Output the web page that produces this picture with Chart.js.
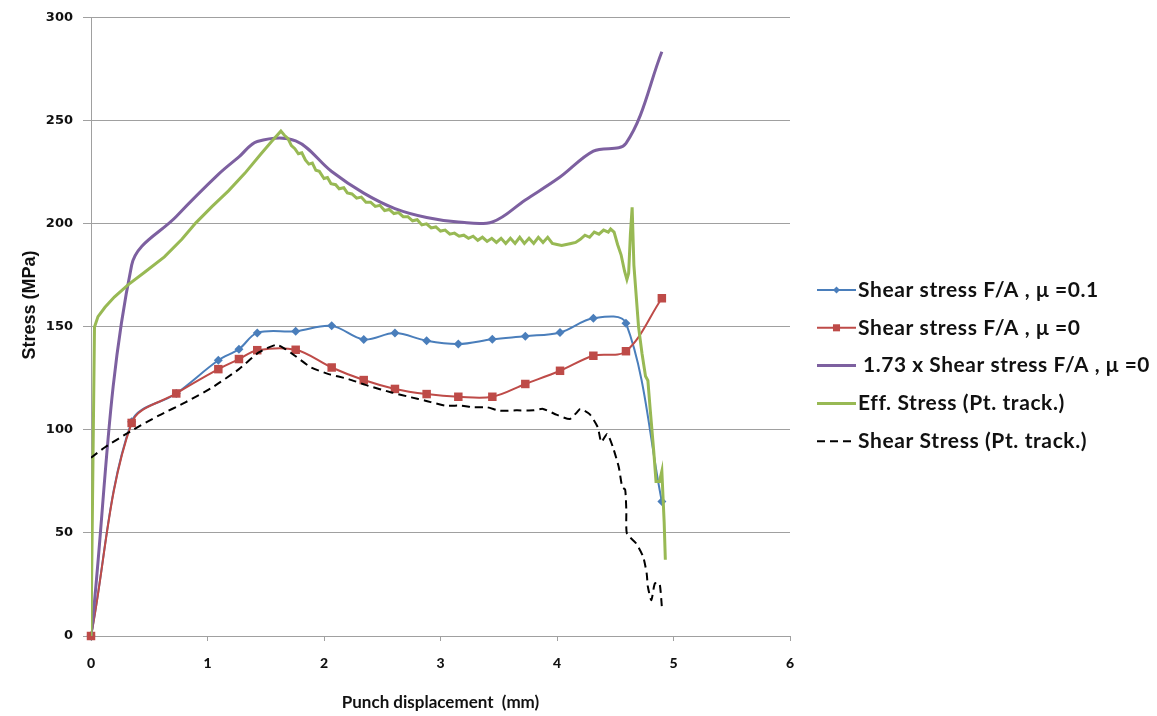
<!DOCTYPE html>
<html>
<head>
<meta charset="utf-8">
<script src="https://cdn.jsdelivr.net/npm/chart.js@4.4.0/dist/chart.umd.min.js"></script>
<style>
  body { margin: 0; background: #fff; }
</style>
</head>
<body>
<canvas id="stressChart" width="1157" height="716"></canvas>
<script>
// Punch displacement (mm) of the F/A points
const faX = [0, 0.349, 0.732, 1.093, 1.27, 1.427, 1.757, 2.066, 2.341, 2.609, 2.881, 3.153, 3.445, 3.728, 4.026, 4.312, 4.592, 4.9];
// Shear stress F/A, mu = 0.1
const shearMu01 = [0, 104, 117.7, 133.8, 139.2, 147.1, 147.9, 150.5, 143.9, 147.0, 143.3, 141.7, 144.0, 145.5, 147.3, 154.2, 151.8, 65.3];
// Shear stress F/A, mu = 0
const shearMu0 = [0, 103.4, 117.7, 129.5, 134.4, 138.7, 138.9, 130.3, 124.2, 119.9, 117.4, 116.1, 116.1, 122.3, 128.7, 136.0, 138.2, 163.9];
// 1.73 x shear stress F/A, mu = 0
const shearMu0Scaled = [0, 180, 203.6, 224, 232.5, 240, 240.3, 225.4, 214.9, 207.4, 203.1, 200.9, 200.9, 211.6, 222.7, 235.3, 239.1, 283.5];

// Eff. stress, point tracking
const effX = [0, 0.03, 0.06, 0.12, 0.2, 0.32, 0.46, 0.63, 0.78, 0.9, 1.04, 1.18, 1.32, 1.46, 1.55, 1.63,
  1.66, 1.69, 1.72, 1.75, 1.78, 1.81, 1.84, 1.87, 1.9, 1.93, 1.96, 2.0, 2.03, 2.06, 2.1, 2.13, 2.17, 2.2,
  2.24, 2.28, 2.32, 2.36, 2.4, 2.44, 2.48, 2.52, 2.56, 2.6, 2.64, 2.68, 2.72, 2.76, 2.8, 2.84, 2.88, 2.92,
  2.96, 3.0, 3.04, 3.08, 3.12, 3.16, 3.2, 3.24, 3.28, 3.32, 3.36, 3.4, 3.44, 3.48, 3.52, 3.56, 3.6, 3.64,
  3.68, 3.72, 3.76, 3.8, 3.84, 3.88, 3.92, 3.96, 4.0, 4.04, 4.08, 4.12, 4.16, 4.2, 4.24, 4.28, 4.32, 4.36,
  4.4, 4.44, 4.46, 4.49, 4.52, 4.55, 4.58, 4.6, 4.615, 4.63, 4.645, 4.66, 4.7, 4.73, 4.76, 4.78, 4.8, 4.83,
  4.85, 4.88, 4.9, 4.92, 4.93];
const effY = [0, 150, 155, 159.5, 164.5, 170.5, 176.5, 184, 192.5, 200.5, 208.5, 216, 224.5, 234, 240, 245,
  243, 241.5, 238, 236.5, 234, 234.5, 231, 229, 229.5, 226, 225.5, 222, 222.5, 219.5, 219, 217, 217.5, 215,
  214.5, 212.5, 213, 210.5, 210.5, 208.5, 209, 206.5, 207, 205, 205.5, 203.5, 203.5, 201.5, 202, 199.5, 200, 198,
  198.5, 196.5, 197, 195, 195.5, 194, 194.5, 193, 194, 192, 193.5, 191.5, 193, 191, 193, 190.5, 193, 190.5,
  193.5, 190.5, 193, 190.5, 193.5, 191, 193.5, 190.5, 190, 189.5, 190, 190.5, 191, 192.5, 194.5, 193.5, 196, 195,
  197, 196, 197.5, 196, 190, 185, 177, 173, 176, 195, 208, 180, 150, 137, 126, 124, 110, 90,
  75, 75, 80, 55, 37];

// Shear stress, point tracking
const trackX = [0, 0.12, 0.35, 0.58, 0.81, 1.04, 1.27, 1.44, 1.59, 1.67, 1.75, 1.89, 2.04, 2.21, 2.38, 2.58,
  2.75, 2.87, 3.04, 3.18, 3.28, 3.4, 3.51, 3.65, 3.8, 3.88, 4.0, 4.11, 4.17, 4.2, 4.28, 4.35, 4.38, 4.43,
  4.48, 4.53, 4.56, 4.585, 4.595, 4.6, 4.68, 4.74, 4.77, 4.78, 4.81, 4.84, 4.88, 4.9];
const trackY = [86.5, 91.6, 99.7, 106.9, 113.4, 120.6, 129.5, 137.6, 141.3, 139.2, 136, 130.3, 127.1, 124.7, 121.4, 118.2,
  115.8, 114.2, 111.8, 111.8, 111, 111, 109.3, 109.5, 109.5, 110.2, 107.3, 105.3, 108.5, 110.2, 107.7, 101.3, 94.1, 98.1,
  91.6, 82, 72.3, 71, 61, 49.7, 44.9, 38.4, 30.3, 23.9, 17.4, 25.5, 25.5, 14.2];

const xTicks = [0, 1, 2, 3, 4, 5, 6];
const yTicks = [0, 50, 100, 150, 200, 250, 300];
const seriesNames = [
  "Shear stress F/A , \u03bc =0.1",
  "Shear stress F/A , \u03bc =0",
  "1.73 x Shear stress F/A , \u03bc =0",
  "Eff. Stress (Pt. track.)",
  "Shear Stress (Pt. track.)"
];
const yTitle = "Stress (MPa)";

function toPoints(xs, ys) {
  return xs.map((x, i) => ({ x: x, y: ys[i] }));
}

const gridColor = "#a0a0a0";

// legend on the right + y title, drawn by hand
const sideLegend = {
  id: "sideLegend",
  afterDraw(chart) {
    const ctx = chart.ctx;
    ctx.save();
    ctx.font = "bold 21px Lato";
    ctx.letterSpacing = "0.6px";
    ctx.textBaseline = "middle";
    chart.data.datasets.forEach((ds, i) => {
      const y = 290 + i * 37.8;
      ctx.strokeStyle = ds.borderColor;
      ctx.lineWidth = ds.legendWidth;
      ctx.setLineDash(ds.borderDash || []);
      ctx.beginPath();
      ctx.moveTo(817, y);
      ctx.lineTo(856, y);
      ctx.stroke();
      ctx.setLineDash([]);
      if (ds.pointRadius > 0) {
        ctx.fillStyle = ds.pointBackgroundColor;
        Chart.helpers.drawPoint(ctx, { pointStyle: ds.pointStyle, radius: ds.pointRadius - 1, rotation: 0, borderWidth: 0 }, 836.5, y);
      }
      ctx.fillStyle = "#111";
      // third label starts a little further right and must fit the canvas
      const tx = i === 2 ? 863 : 858;
      ctx.fillText(seriesNames[i], tx, y, 1150 - tx);
    });
    ctx.restore();

    // y axis title, sits a bit above the plot centre in the original
    ctx.save();
    ctx.translate(30, 305);
    ctx.rotate(-Math.PI / 2);
    ctx.font = "bold 18px 'Liberation Sans'";
    ctx.fillStyle = "#111";
    ctx.textAlign = "center";
    ctx.textBaseline = "middle";
    ctx.fillText(yTitle, 0, 0);
    ctx.restore();
  }
};

const ctx = document.getElementById("stressChart").getContext("2d");
const stressChart = new Chart(ctx, {
  type: "line",
  data: {
    datasets: [{
      label: seriesNames[0],
      data: toPoints(faX, shearMu01),
      borderColor: "#4a7ebb",
      backgroundColor: "#4a7ebb",
      pointBackgroundColor: "#4a7ebb",
      pointBorderWidth: 0,
      pointStyle: "rectRot",
      pointRadius: 4.5,
      borderWidth: 2,
      legendWidth: 2,
      tension: 0.35,
      clip: false,
      order: 5
    }, {
      label: seriesNames[1],
      data: toPoints(faX, shearMu0),
      borderColor: "#be4b48",
      backgroundColor: "#be4b48",
      pointBackgroundColor: "#be4b48",
      pointBorderWidth: 0,
      pointStyle: "rect",
      pointRadius: 6,
      borderWidth: 2,
      legendWidth: 2,
      tension: 0.35,
      clip: false,
      order: 4
    }, {
      label: seriesNames[2],
      data: toPoints(faX, shearMu0Scaled),
      borderColor: "#7d60a0",
      backgroundColor: "#7d60a0",
      pointRadius: 0,
      borderWidth: 3,
      legendWidth: 3,
      tension: 0.35,
      order: 3
    }, {
      label: seriesNames[3],
      data: toPoints(effX, effY),
      borderColor: "#98b954",
      backgroundColor: "#98b954",
      pointRadius: 0,
      borderWidth: 3,
      legendWidth: 3,
      tension: 0,
      order: 2
    }, {
      label: seriesNames[4],
      data: toPoints(trackX, trackY),
      borderColor: "#000000",
      backgroundColor: "#000000",
      pointRadius: 0,
      borderWidth: 2,
      legendWidth: 2,
      borderDash: [8, 5],
      tension: 0.2,
      order: 1
    }]
  },
  options: {
    responsive: false,
    animation: false,
    devicePixelRatio: 1,
    layout: { padding: { left: 0, top: 16, right: 367, bottom: 0 } },
    plugins: {
      legend: { display: false },
      tooltip: { enabled: false }
    },
    scales: {
      x: {
        type: "linear",
        min: 0,
        max: 6,
        afterBuildTicks: (scale) => { scale.ticks = xTicks.map(v => ({ value: v })); },
        afterFit: (scale) => { scale.height = 80; },
        grid: { drawOnChartArea: false, drawTicks: true, tickLength: 5, color: gridColor },
        border: { display: true, color: gridColor, width: 1 },
        ticks: { padding: 14, color: "#111", font: { family: "Lato", weight: "900", size: 14 } },
        title: {
          display: true,
          text: "Punch displacement  (mm)",
          color: "#111",
          font: { family: "Lato", weight: "bold", size: 17 },
          padding: { top: 0, bottom: 3 }
        }
      },
      y: {
        type: "linear",
        min: 0,
        max: 300,
        afterBuildTicks: (scale) => { scale.ticks = yTicks.map(v => ({ value: v })); },
        afterFit: (scale) => { scale.width = 91; },
        grid: { drawTicks: true, tickLength: 8, color: gridColor },
        border: { display: true, color: gridColor, width: 1 },
        ticks: { padding: 10, color: "#111", font: { family: "DejaVu Sans", weight: "bold", size: 13 } },
        title: { display: false }
      }
    }
  },
  plugins: [sideLegend]
});
</script>
</body>
</html>
